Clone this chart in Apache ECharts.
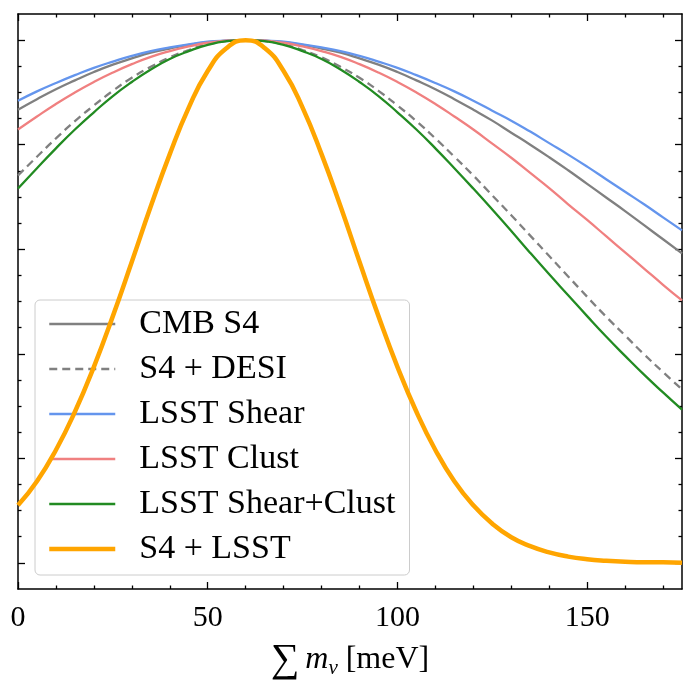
<!DOCTYPE html>
<html>
<head>
<meta charset="utf-8">
<script src="https://cdn.jsdelivr.net/npm/echarts@6/dist/echarts.min.js"></script>
<style>
html,body{margin:0;padding:0;background:#fff;}
#chart{width:684px;height:685px;}
</style>
</head>
<body>
<div id="chart"></div>
<script>
const xValues = [0,5,10,15,20,25,30,35,40,45,50,55,60,65,70,75,80,85,90,95,100,105,110,115,120,125,130,135,140,145,150,155,160,165,170,175];

// normalised posteriors
const cmbS4 = [0.867,0.887,0.906,0.923,0.939,0.953,0.965,0.976,0.984,0.991,0.996,0.999,1.000,0.999,0.996,0.991,0.984,0.976,0.965,0.953,0.939,0.923,0.906,0.887,0.867,0.846,0.823,0.800,0.776,0.751,0.725,0.699,0.673,0.646,0.619,0.592];
const s4Desi = [0.741,0.777,0.812,0.845,0.875,0.903,0.928,0.949,0.967,0.981,0.992,0.998,1.000,0.998,0.992,0.981,0.967,0.949,0.928,0.903,0.875,0.845,0.812,0.777,0.741,0.703,0.665,0.626,0.587,0.548,0.509,0.471,0.435,0.399,0.365,0.332];
const lsstShear = [0.884,0.902,0.918,0.933,0.947,0.959,0.970,0.979,0.986,0.992,0.997,0.999,1.000,0.999,0.997,0.992,0.986,0.979,0.970,0.959,0.947,0.933,0.918,0.902,0.884,0.865,0.846,0.825,0.803,0.781,0.758,0.734,0.710,0.686,0.661,0.636];
const lsstClust = [0.829,0.854,0.878,0.900,0.920,0.938,0.954,0.968,0.979,0.988,0.995,0.999,1.000,0.999,0.995,0.988,0.979,0.968,0.954,0.938,0.920,0.900,0.878,0.854,0.829,0.802,0.775,0.746,0.717,0.686,0.656,0.625,0.594,0.563,0.532,0.502];
const lsstShearClust = [0.716,0.755,0.793,0.829,0.862,0.893,0.920,0.944,0.964,0.979,0.991,0.998,1.000,0.998,0.991,0.979,0.964,0.944,0.920,0.893,0.862,0.829,0.793,0.755,0.716,0.676,0.635,0.593,0.552,0.512,0.472,0.433,0.396,0.360,0.326,0.293];
const s4Lsst = [0.110,0.156,0.216,0.289,0.375,0.472,0.576,0.682,0.782,0.871,0.941,0.985,1.000,0.985,0.941,0.871,0.782,0.682,0.576,0.472,0.375,0.289,0.216,0.156,0.110,0.075,0.049,0.032,0.020,0.012,0.007,0.004,0.002,0.001,0.001,0.000];

// tick positions
const xMajorTicks = [0,50,100,150];
const xMinorTicks = [10,20,30,40,60,70,80,90,110,120,130,140,160,170];
const yMajorTicks = [0,0.2,0.4,0.6,0.8,1.0];
const yMinorTicks = [0.05,0.1,0.15,0.25,0.3,0.35,0.45,0.5,0.55,0.65,0.7,0.75,0.85,0.9,0.95];

const seriesNames = ['CMB S4','S4 + DESI','LSST Shear','LSST Clust','LSST Shear+Clust','S4 + LSST'];

const SERIF = "'Liberation Serif','DejaVu Serif',serif";
const chart = echarts.init(document.getElementById('chart'), null, {renderer:'canvas'});

function pairs(ys){ return xValues.map((x,i)=>[x,ys[i]]); }

const XMIN=0, XMAX=175, YMIN=-0.05, YMAX=1.05;

function xAx(pos, ticks, len, showLine, showLabels){
  return {
    type:'value', position:pos, min:XMIN, max:XMAX, gridIndex:0,
    axisLine:{show:showLine, onZero:false, lineStyle:{color:'#000', width:1.5}},
    axisTick:{show:true, inside:true, length:len, customValues:ticks, lineStyle:{color:'#000', width:1.3}},
    axisLabel:{show:showLabels, customValues:ticks, margin:14, color:'#000', fontSize:30, fontFamily:SERIF},
    splitLine:{show:false}
  };
}
function yAx(pos, ticks, len, showLine){
  return {
    type:'value', position:pos, min:YMIN, max:YMAX, gridIndex:0,
    axisLine:{show:showLine, onZero:false, lineStyle:{color:'#000', width:1.5}},
    axisTick:{show:true, inside:true, length:len, customValues:ticks, lineStyle:{color:'#000', width:1.3}},
    axisLabel:{show:false},
    splitLine:{show:false}
  };
}

const xAxes = [
  xAx('bottom', xMajorTicks, 7, true, true),
  xAx('bottom', xMinorTicks, 3.5, false, false),
  xAx('top', xMajorTicks, 7, true, false),
  xAx('top', xMinorTicks, 3.5, false, false)
];
xAxes[0].name = '{s|∑}{m|m}{n|ν}{t| [meV]}';
xAxes[0].nameLocation = 'middle';
xAxes[0].nameGap = 52;
xAxes[0].nameTextStyle = {
  color:'#000', fontFamily:SERIF, fontSize:30,
  rich:{
    s:{fontSize:40, fontFamily:SERIF, color:'#000', lineHeight:38, padding:[0,6,0,0]},
    m:{fontSize:32, fontFamily:SERIF, fontStyle:'italic', color:'#000', lineHeight:38},
    n:{fontSize:21, fontFamily:SERIF, fontStyle:'italic', color:'#000', lineHeight:21, padding:[17,0,0,0]},
    t:{fontSize:32, fontFamily:SERIF, color:'#000', lineHeight:38}
  }
};

const yAxes = [
  yAx('left', yMajorTicks, 7, true),
  yAx('left', yMinorTicks, 3.5, false),
  yAx('right', yMajorTicks, 7, true),
  yAx('right', yMinorTicks, 3.5, false)
];

const styles = [
  {color:'#808080', width:2.3, type:'solid'},
  {color:'#808080', width:2.3, type:[8,5]},
  {color:'#6495ED', width:2.3, type:'solid'},
  {color:'#F08080', width:2.3, type:'solid'},
  {color:'#228B22', width:2.3, type:'solid'},
  {color:'#FFA500', width:4.5, type:'solid'}
];
const dataSets = [cmbS4, s4Desi, lsstShear, lsstClust, lsstShearClust, s4Lsst];

const series = seriesNames.map((name,i)=>({
  name:name, type:'line', xAxisIndex:0, yAxisIndex:0,
  data:pairs(dataSets[i]), smooth:0.5, symbol:'none', showSymbol:false,
  color:styles[i].color,
  lineStyle:{color:styles[i].color, width:styles[i].width, type:styles[i].type},
  z: i===5 ? 5 : 2,
  emphasis:{disabled:true}
}));

chart.setOption({
  animation:false,
  backgroundColor:'#fff',
  grid:{left:18, right:2, top:14, bottom:93, containLabel:false},
  xAxis:xAxes,
  yAxis:yAxes,
  legend:{
    orient:'vertical', left:35, top:300,
    data:seriesNames.map((n,i)=>({name:n, lineStyle:{color:styles[i].color, width:styles[i].width, type:styles[i].type}})),
    itemWidth:66, itemHeight:14, itemGap:11,
    padding:[7,14,9,12],
    backgroundColor:'rgba(255,255,255,0.8)',
    borderColor:'#cccccc', borderWidth:1, borderRadius:5,
    selectedMode:false,
    itemStyle:{opacity:0},
    textStyle:{color:'#000', fontSize:34, lineHeight:33, fontFamily:SERIF, padding:[0,0,0,19]}
  },
  series:series
});
</script>
</body>
</html>
